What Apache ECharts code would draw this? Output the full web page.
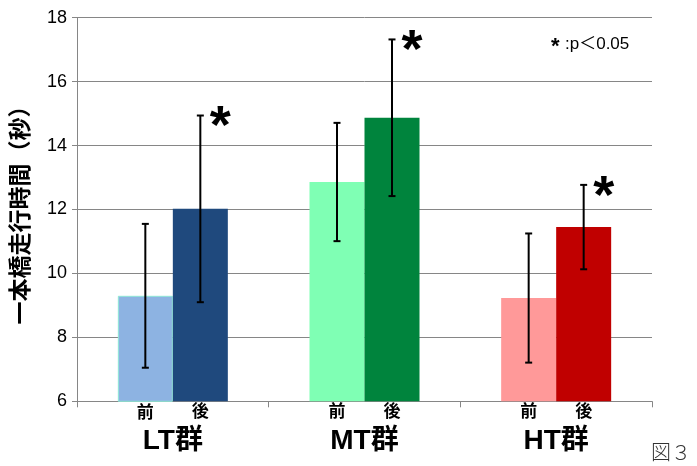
<!DOCTYPE html>
<html>
<head>
<meta charset="utf-8">
<script src="https://cdn.jsdelivr.net/npm/echarts@6/dist/echarts.min.js"></script>
<style>
  html, body { margin: 0; padding: 0; background: #fff; }
  #chart { width: 697px; height: 466px; }
</style>
</head>
<body>
<div id="chart"></div>
<script>
// Groups and measurements (mean ± SD, seconds)
const groups = ['LT群', 'MT群', 'HT群'];
const phaseNames = ['前', '後'];
const beforeMean = [9.30, 12.86, 9.23];
const beforeSD = [2.25, 1.85, 2.02];
const afterMean = [12.02, 14.87, 11.45];
const afterSD = [2.92, 2.45, 1.32];
const significant = [true, true, true];   // after vs before, p < 0.05

const beforeColors = ['#8DB3E2', '#7FFFB4', '#FF9999'];
const afterColors = ['#1F497D', '#00843D', '#C00000'];

const BAR_W = 55;
const cjk = '"Liberation Sans", "Noto Sans CJK JP", sans-serif';

// error bar items: [groupIndex, mean, sd, phase(0 before / 1 after), significant]
const errItems = [];
groups.forEach((g, i) => {
  errItems.push([i, beforeMean[i], beforeSD[i], 0, 0]);
  errItems.push([i, afterMean[i], afterSD[i], 1, significant[i] ? 1 : 0]);
});

const chart = echarts.init(document.getElementById('chart'), null, { renderer: 'canvas' });

const phaseLabel = (name) => ({
  show: true, position: 'bottom', distance: 3,
  formatter: name,
  fontFamily: cjk, fontWeight: 'bold', fontSize: 17, color: '#000'
});

const option = {
  animation: false,
  backgroundColor: '#ffffff',
  grid: { left: 77, right: 45, top: 17.7, bottom: 64.7 },
  xAxis: {
    type: 'category',
    data: groups,
    axisLine: { lineStyle: { color: '#868686', width: 1 } },
    axisTick: { show: true, length: 6, lineStyle: { color: '#868686' } },
    axisLabel: {
      margin: 26,
      fontFamily: cjk,
      fontWeight: 'bold',
      fontSize: 28,
      color: '#000'
    }
  },
  yAxis: {
    type: 'value',
    min: 6, max: 18, interval: 2,
    name: '一本橋走行時間（秒）',
    nameLocation: 'middle',
    nameRotate: 90,
    nameGap: 44,
    nameTextStyle: { fontFamily: cjk, fontWeight: 'bold', fontSize: 23, color: '#000' },
    axisLine: { show: true, lineStyle: { color: '#868686' } },
    axisTick: { show: true, length: 5, lineStyle: { color: '#868686' } },
    splitLine: { lineStyle: { color: '#868686', width: 1 } },
    axisLabel: { fontFamily: '"Liberation Sans", Arial, sans-serif', fontSize: 18, color: '#000', margin: 10 }
  },
  series: [
    {
      name: phaseNames[0],
      type: 'bar',
      barWidth: BAR_W,
      barGap: '0%',
      data: beforeMean.map((v, i) => ({
        value: v,
        itemStyle: {
          color: beforeColors[i],
          borderColor: i === 0 ? '#8FE8D6' : beforeColors[i],
          borderWidth: i === 0 ? 1 : 0
        }
      })),
      label: phaseLabel(phaseNames[0])
    },
    {
      name: phaseNames[1],
      type: 'bar',
      barWidth: BAR_W,
      barGap: '0%',
      data: afterMean.map((v, i) => ({ value: v, itemStyle: { color: afterColors[i] } })),
      label: phaseLabel(phaseNames[1])
    },
    {
      name: 'SD',
      type: 'custom',
      data: errItems,
      z: 10,
      renderItem: function (params, api) {
        const gi = api.value(0), mean = api.value(1), sd = api.value(2);
        const phase = api.value(3), sig = api.value(4);
        const center = api.coord([gi, mean]);
        const x = center[0] + (phase === 0 ? -BAR_W / 2 : BAR_W / 2);
        const yTop = api.coord([gi, mean + sd])[1];
        const yBot = api.coord([gi, mean - sd])[1];
        const cap = 3.5;
        const st = { stroke: '#000', lineWidth: 2 };
        const children = [
          { type: 'line', shape: { x1: x, y1: yTop, x2: x, y2: yBot }, style: st },
          { type: 'line', shape: { x1: x - cap, y1: yTop, x2: x + cap, y2: yTop }, style: st },
          { type: 'line', shape: { x1: x - cap, y1: yBot, x2: x + cap, y2: yBot }, style: st }
        ];
        if (sig) {
          children.push({
            type: 'text',
            x: x + 20, y: yTop + 13,
            style: {
              text: '*',
              fontFamily: '"Liberation Sans", Arial, sans-serif',
              fontWeight: 'bold',
              fontSize: 54,
              fill: '#000',
              align: 'center',
              verticalAlign: 'middle'
            }
          });
        }
        return { type: 'group', children: children };
      }
    }
  ],
  graphic: [
    {
      type: 'text', left: 551, top: 36,
      style: { text: '*', fontFamily: '"Liberation Sans", Arial, sans-serif', fontWeight: 'bold', fontSize: 22, fill: '#000' }
    },
    {
      type: 'text', left: 565, top: 36,
      style: { text: ':p＜0.05', fontFamily: '"Liberation Sans", "Noto Sans CJK JP", sans-serif', fontSize: 17, fill: '#000' }
    },
    {
      type: 'text', left: 651, top: 442,
      style: { text: '図３', fontFamily: '"Noto Sans CJK JP", sans-serif', fontWeight: 300, fontSize: 20, fill: '#333' }
    }
  ]
};

chart.setOption(option);
</script>
</body>
</html>
